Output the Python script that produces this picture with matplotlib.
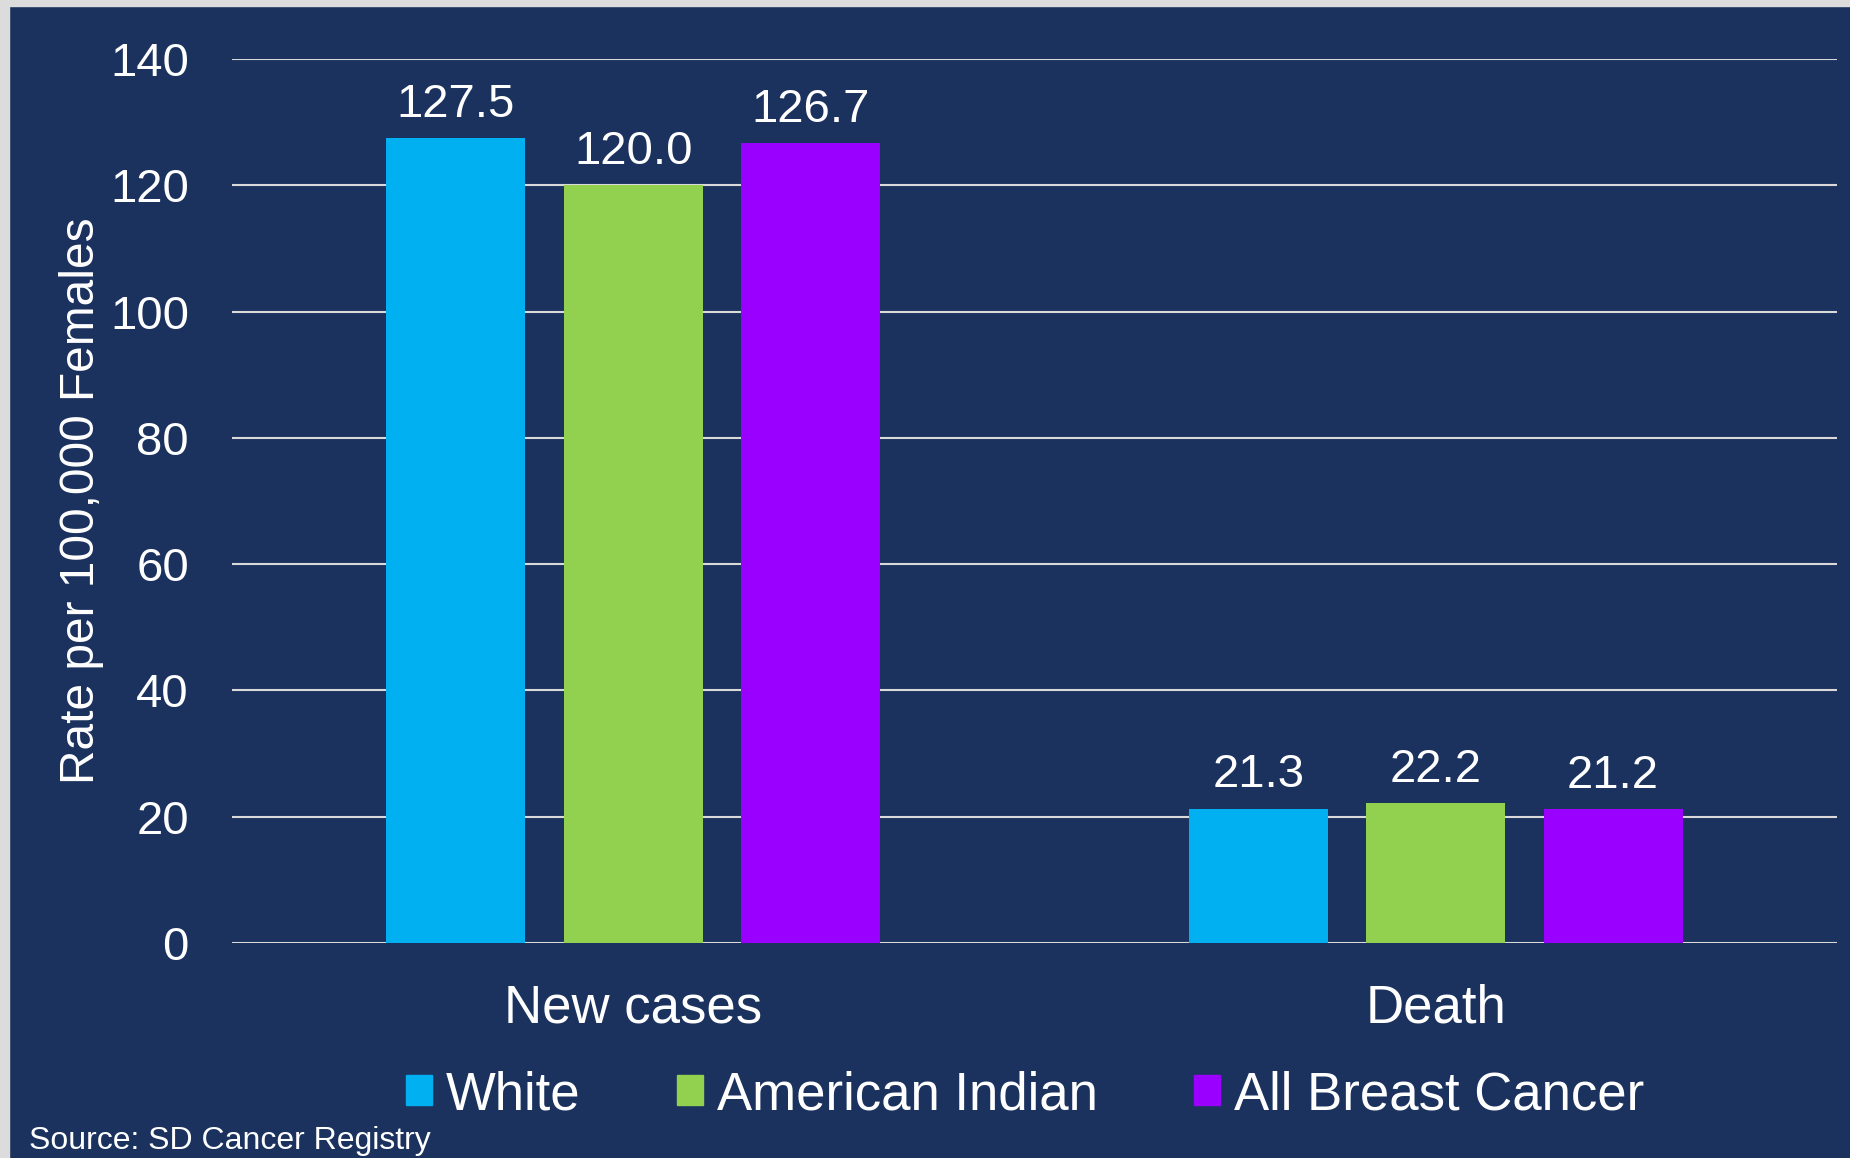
import matplotlib
matplotlib.use("Agg")
import matplotlib.pyplot as plt
import matplotlib.patches as mpatches
import numpy as np

categories = ["New cases", "Death"]
series_names = ["White", "American Indian", "All Breast Cancer"]
white = [127.5, 21.3]
american_indian = [120.0, 22.2]
all_breast = [126.7, 21.2]
yticks = [0, 20, 40, 60, 80, 100, 120, 140]

colors = ["#00B0F0", "#92D050", "#9900FF"]
bg = "#1B325F"

plt.rcParams['font.family'] = ['Liberation Sans', 'DejaVu Sans']

fig = plt.figure(figsize=(18.5, 11.58), dpi=100, facecolor=bg)
ax = fig.add_axes([232/1850, 1-943/1158, (1837-232)/1850, (943-59)/1158])
ax.set_facecolor(bg)

x = np.arange(len(categories))
width = 0.173
step = 0.221
all_series = [white, american_indian, all_breast]
for i, (vals, name, c) in enumerate(zip(all_series, series_names, colors)):
    bars = ax.bar(x + (i - 1) * step, vals, width, color=c, label=name, zorder=3)
    ax.bar_label(bars, labels=[f"{v:.1f}" for v in vals], padding=8,
                 color="white", fontsize=34)

ax.set_xlim(-0.5, 1.5)
ax.set_ylim(0, 140)
ax.set_yticks(yticks)
ax.set_xticks(x)
ax.set_xticklabels(categories)
ax.yaxis.grid(True, color="#D9D9D9", linewidth=1.5, zorder=0)
ax.set_axisbelow(True)
for s in ax.spines.values():
    s.set_visible(False)
ax.tick_params(axis="y", length=0, pad=31, labelsize=34, labelcolor="white")
ax.tick_params(axis="x", length=0, pad=29, labelsize=38, labelcolor="white")

ax.set_ylabel("Rate per 100,000 Females", color="white", fontsize=34.5)
ax.yaxis.set_label_coords(-0.080, 0.5)

handles = [mpatches.Patch(color=c) for c in colors]
leg = fig.legend(handles, series_names, loc="center", bbox_to_anchor=(1025/1850, 1-1095/1158),
                 ncol=3, frameon=False, fontsize=38, labelcolor="white",
                 handlelength=0.49, handleheight=0.49, handletextpad=0.27, columnspacing=1.82)

fig.text(29/1850, 1-1141/1158, "Source: SD Cancer Registry", color="white", fontsize=23,
         ha="left", va="center")

# light border at top and left
fig.patches.append(mpatches.Rectangle((0, 1-6/1158), 1, 6/1158, transform=fig.transFigure,
                                      color="#DCDCDC", zorder=10))
fig.patches.append(mpatches.Rectangle((0, 0), 9/1850, 1, transform=fig.transFigure,
                                      color="#DCDCDC", zorder=10))

fig.savefig("out.png", dpi=100, facecolor=bg)
